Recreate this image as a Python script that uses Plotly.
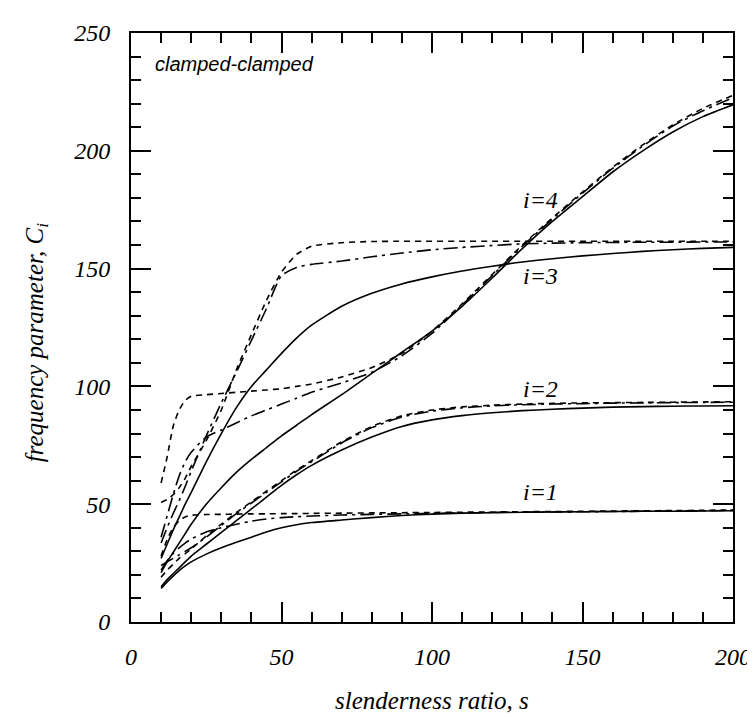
import plotly.graph_objects as go

s = [10, 12, 14, 16, 18, 20, 25, 30, 35, 40, 45, 50, 55, 60, 70, 80, 90, 100,
     110, 120, 130, 140, 150, 160, 170, 180, 190, 200]

# mode 1
sol1 = [14.2, 17, 19.5, 21.8, 23.8, 25.5, 28.8, 31.5, 33.8, 36, 38.2, 40, 41.3, 42.2, 43.3, 44.3, 45.2, 45.8,
        46.2, 46.4, 46.6, 46.7, 46.8, 46.9, 47.0, 47.0, 47.1, 47.2]
sd1 = [28, 35, 40, 43, 44.6, 45.3, 45.6, 45.7, 45.8, 45.9, 45.9, 46.0, 46.0, 46.1, 46.2, 46.3, 46.4, 46.5,
       46.6, 46.7, 46.8, 46.9, 47.0, 47.1, 47.2, 47.3, 47.4, 47.6]
ld1 = [22, 26, 29, 31.5, 33.5, 35.2, 38.2, 40, 41.5, 42.8, 43.7, 44.3, 44.7, 45, 45.4, 45.7, 45.9, 46.1,
       46.3, 46.5, 46.6, 46.7, 46.8, 46.9, 47.0, 47.1, 47.2, 47.4]
# mode 2
sol2 = [15, 18, 20.5, 23, 25.5, 28, 33, 38, 43, 48, 53, 58, 62.5, 66.5, 73, 78.5, 83, 85.8,
        87.6, 88.8, 89.7, 90.3, 90.8, 91.2, 91.4, 91.6, 91.7, 91.8]
sd2 = [19, 22, 24.5, 27, 29, 31, 36.5, 41.5, 46.5, 51, 55.5, 60, 64.5, 68.5, 76.5, 83, 87.5, 90,
       91.3, 92, 92.5, 92.8, 93, 93.1, 93.2, 93.3, 93.4, 93.5]
ld2 = [24, 25.5, 27, 28.5, 30, 31.5, 36, 41, 46, 50.5, 55, 59.5, 64, 68, 76, 82.5, 87, 89.5,
       90.9, 91.7, 92.2, 92.5, 92.7, 92.9, 93.0, 93.1, 93.2, 93.3]
# mode 3
sol3 = [27, 33, 39, 44.5, 50, 55, 68, 80, 91, 100, 107, 114, 120.5, 126, 134, 139.5, 143.5, 146.5,
        149, 151, 152.8, 154.2, 155.4, 156.4, 157.3, 158, 158.6, 159]
sd3 = [50.7, 52, 54, 57, 61, 66, 77, 90, 107, 122, 136.5, 148.5, 156, 159.5, 161, 161.5, 161.6, 161.6,
       161.6, 161.6, 161.6, 161.6, 161.6, 161.6, 161.6, 161.6, 161.6, 161.6]
ld3 = [33.5, 40, 46, 51.5, 57.5, 64, 79, 93, 106, 119.5, 133, 147, 150.5, 151.8, 153.2, 155, 156.6, 158,
       159, 159.8, 160.5, 160.8, 161, 161.1, 161.2, 161.2, 161.3, 161.3]
# mode 4
sol4 = [21, 25.5, 29.5, 33.5, 37.5, 41.5, 50, 57, 63.5, 69, 74, 79, 83.5, 88, 96.5, 105.5, 114.5, 123.5,
        134, 146, 158.5, 170, 180.5, 191, 200, 208, 214.5, 219.5]
sd4 = [59, 70, 83, 90, 94, 95.8, 96.5, 97, 97.5, 98, 98.5, 99, 100, 101, 104, 108, 114, 123.5,
       135, 147.5, 160, 171.5, 182.5, 193, 202.5, 211, 218, 223.5]
ld4 = [36, 45, 54, 62, 68, 72, 78.5, 81.5, 84.5, 87.5, 90, 92.5, 95, 97.5, 101.5, 106, 113, 122.5,
       134.5, 147, 159.5, 171, 182, 192.5, 202, 210.5, 217, 222.5]

mode_labels = ["i=1", "i=2", "i=3", "i=4"]
label_x = [136, 136, 136, 136]
label_y = [55, 99, 147, 179]

x_ticks = [0, 50, 100, 150, 200]
y_ticks = [0, 50, 100, 150, 200, 250]

SERIF = "Liberation Serif"
SOLID = "solid"
SHORT = "6px,5px"
LONGDOT = "14px,5px,3px,5px"

fig = go.Figure()
series = [
    (sol1, SOLID), (sd1, SHORT), (ld1, LONGDOT),
    (sol2, SOLID), (sd2, SHORT), (ld2, LONGDOT),
    (sol3, SOLID), (sd3, SHORT), (ld3, LONGDOT),
    (sol4, SOLID), (sd4, SHORT), (ld4, LONGDOT),
]
for ys, dash in series:
    fig.add_trace(go.Scatter(x=s, y=ys, mode="lines",
                             line=dict(color="black", width=1.6, dash=dash, shape="spline", smoothing=0.6),
                             showlegend=False, hoverinfo="skip"))

for t, xx, yy in zip(mode_labels, label_x, label_y):
    fig.add_annotation(x=xx, y=yy, text=t, showarrow=False, xanchor="center", yanchor="middle",
                       font=dict(family=SERIF, size=24, color="black", style="italic"))

fig.add_annotation(x=7.2, y=237, text="clamped-clamped", showarrow=False, xanchor="left", yanchor="middle",
                   font=dict(family="Liberation Sans", size=20, color="black", style="italic"))

fig.add_annotation(xref="paper", yref="paper", x=0.5, y=-0.133, text="slenderness ratio, s",
                   showarrow=False, xanchor="center", yanchor="middle",
                   font=dict(family=SERIF, size=25, color="black", style="italic"))
fig.add_annotation(xref="paper", yref="paper", x=-0.157, y=0.474, text="frequency parameter, C<sub>i</sub>",
                   showarrow=False, xanchor="center", yanchor="middle", textangle=-90,
                   font=dict(family=SERIF, size=25, color="black", style="italic"))

axis_common = dict(showgrid=False, zeroline=False, showline=True, linecolor="black", linewidth=2,
                   mirror="ticks", ticks="inside", ticklen=20, tickwidth=1.5, tickcolor="black",
                   tickfont=dict(family=SERIF, size=24, color="black", style="italic"))
fig.update_xaxes(range=[0, 200], tickvals=x_ticks, ticktext=[str(v) for v in x_ticks],
                 minor=dict(dtick=10, tick0=0, ticks="inside", ticklen=10, tickwidth=1.5, tickcolor="black"),
                 ticklabelstandoff=12, **axis_common)
fig.update_yaxes(range=[0, 250], tickvals=y_ticks, ticktext=[str(v) for v in y_ticks],
                 minor=dict(dtick=10, tick0=0, ticks="inside", ticklen=10, tickwidth=1.5, tickcolor="black"),
                 ticklabelstandoff=14, **axis_common)

fig.update_layout(width=755, height=717, margin=dict(l=123, r=22, t=17, b=103),
                  plot_bgcolor="white", paper_bgcolor="white")

fig.write_html("out.html")
